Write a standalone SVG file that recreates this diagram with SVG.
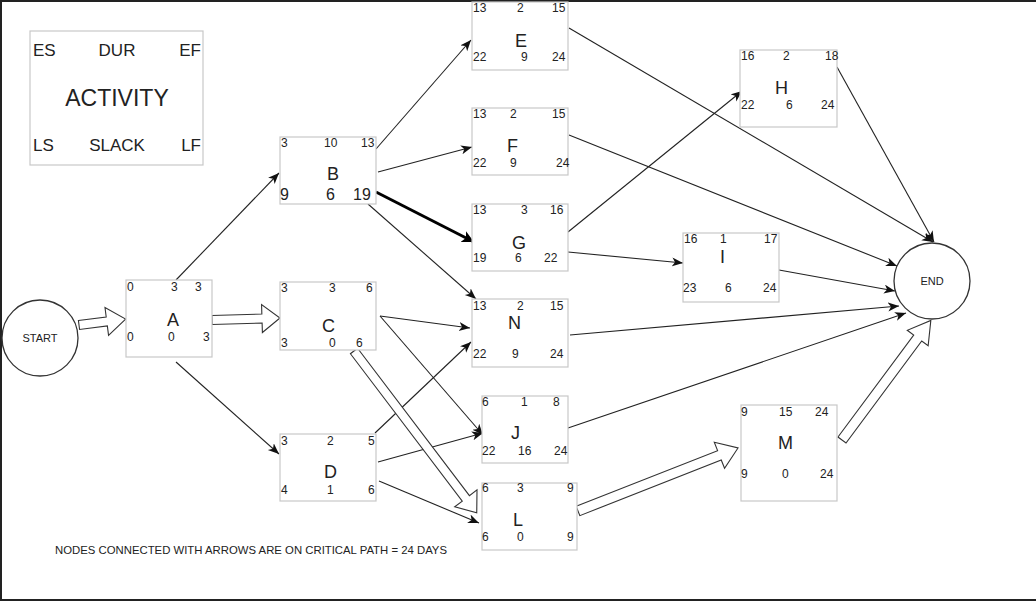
<svg xmlns="http://www.w3.org/2000/svg" width="1036" height="601" viewBox="0 0 1036 601">
<style>
text{font-family:"Liberation Sans",Arial,sans-serif;fill:#222}
.n{font-size:12px}
.b{font-size:16px}
.l{font-size:18px}
.g{font-size:17px}
.box{fill:#fff;stroke:#c8c8c8;stroke-width:1.2}
.circ{fill:#fff;stroke:#333;stroke-width:1.3}
.c{fill:none;stroke:#222;stroke-width:1.1}
.thick{fill:none;stroke:#000;stroke-width:3}
.hol{fill:#fff;stroke:#333;stroke-width:1.1}
</style>
<defs>
<marker id="ah" markerUnits="userSpaceOnUse" markerWidth="12" markerHeight="10" refX="11" refY="4.5" orient="auto">
<path d="M0,0 L11,4.5 L0,9 L3,4.5 Z" fill="#111"/>
</marker>
<marker id="ahb" markerUnits="userSpaceOnUse" markerWidth="14" markerHeight="14" refX="12" refY="6" orient="auto">
<path d="M0,0 L12,6 L0,12 L3,6 Z" fill="#000"/>
</marker>
</defs>
<rect width="1036" height="601" fill="#fff"/>
<path d="M0,1 H1036 M1,0 V601 M0,600 H1036" stroke="#222" stroke-width="2" fill="none"/>

<g id="legend">
<rect class="box" x="30" y="31" width="173" height="134"/>
<text class="g" x="33" y="56">ES</text>
<text class="g" x="117" y="56" text-anchor="middle">DUR</text>
<text class="g" x="201" y="56" text-anchor="end">EF</text>
<text x="117" y="106" font-size="23" text-anchor="middle">ACTIVITY</text>
<text class="g" x="33" y="151">LS</text>
<text class="g" x="117" y="151" text-anchor="middle">SLACK</text>
<text class="g" x="201" y="151" text-anchor="end">LF</text>
</g>

<g id="connectors">
<path class="c" marker-end="url(#ah)" d="M176,280 L279,173"/>
<path class="c" marker-end="url(#ah)" d="M176,362 L279,454"/>
<path class="c" marker-end="url(#ah)" d="M376,149 L471,40"/>
<path class="c" marker-end="url(#ah)" d="M378,172 L472,147"/>
<path class="thick" marker-end="url(#ahb)" d="M376,192 L474,242"/>
<path class="c" marker-end="url(#ah)" d="M368,204 L476,299"/>
<path class="c" marker-end="url(#ah)" d="M380,316 L470,328"/>
<path class="c" marker-end="url(#ah)" d="M380,316 L483,435"/>
<path class="c" marker-end="url(#ah)" d="M375,433 L471,342"/>
<path class="c" marker-end="url(#ah)" d="M378,462 L483,433"/>
<path class="c" marker-end="url(#ah)" d="M379,481 L479,523"/>
<path class="c" marker-end="url(#ah)" d="M569,28 L933,242"/>
<path class="c" marker-end="url(#ah)" d="M569,135 L897,266"/>
<path class="c" marker-end="url(#ah)" d="M568,232 L742,91"/>
<path class="c" marker-end="url(#ah)" d="M568,252 L683,263"/>
<path class="c" marker-end="url(#ah)" d="M779,270 L895,291"/>
<path class="c" marker-end="url(#ah)" d="M570,335 L899,306"/>
<path class="c" marker-end="url(#ah)" d="M568,428 L906,313"/>
<path class="c" marker-end="url(#ah)" d="M837,67 L934,242"/>
<path class="hol" transform="translate(79,325) rotate(-7.3)" d="M0,-4.5 L28,-4.5 L28,-14 L47,0 L28,14 L28,4.5 L0,4.5 Z"/>
<path class="hol" transform="translate(212,320) rotate(-1.7)" d="M0,-4.5 L50,-4.5 L50,-14 L68,0 L50,14 L50,4.5 L0,4.5 Z"/>
<path class="hol" transform="translate(354,351) rotate(52.8)" d="M0,-4.5 L185,-4.5 L185,-14 L203,0 L185,14 L185,4.5 L0,4.5 Z"/>
<path class="hol" transform="translate(578,511) rotate(-21.5)" d="M0,-5 L152,-5 L152,-14 L172,0 L152,14 L152,5 L0,5 Z"/>
<path class="hol" transform="translate(842,440) rotate(-53.4)" d="M0,-5 L127,-5 L127,-13 L149,0 L127,13 L127,5 L0,5 Z"/>
</g>

<g id="START">
<circle class="circ" cx="40" cy="338" r="38"/>
<text x="40" y="342" font-size="11" text-anchor="middle">START</text>
</g>
<g id="END">
<circle class="circ" cx="932" cy="281" r="38"/>
<text x="932" y="285" font-size="11" text-anchor="middle">END</text>
</g>

<g id="A">
<rect class="box" x="126" y="280" width="86" height="77"/>
<text class="n" x="127" y="291">0</text><text class="n" x="171" y="291">3</text><text class="n" x="195" y="291">3</text>
<text class="l" x="167" y="326">A</text>
<text class="n" x="127" y="341">0</text><text class="n" x="168" y="341">0</text><text class="n" x="203" y="341">3</text>
</g>
<g id="B">
<rect class="box" x="280" y="137" width="96" height="67"/>
<text class="n" x="281" y="147">3</text><text class="n" x="324" y="147">10</text><text class="n" x="361" y="147">13</text>
<text class="l" x="327" y="180">B</text>
<text class="b" x="280" y="200">9</text><text class="b" x="326" y="200">6</text><text class="b" x="353" y="200">19</text>
</g>
<g id="C">
<rect class="box" x="280" y="282" width="96" height="68"/>
<text class="n" x="281" y="292">3</text><text class="n" x="329" y="292">3</text><text class="n" x="366" y="292">6</text>
<text class="l" x="322" y="332">C</text>
<text class="n" x="281" y="347">3</text><text class="n" x="329" y="347">0</text><text class="n" x="356" y="347">6</text>
</g>
<g id="D">
<rect class="box" x="280" y="434" width="96" height="67"/>
<text class="n" x="281" y="445">3</text><text class="n" x="327" y="445">2</text><text class="n" x="368" y="445">5</text>
<text class="l" x="324" y="478">D</text>
<text class="n" x="281" y="494">4</text><text class="n" x="327" y="494">1</text><text class="n" x="368" y="494">6</text>
</g>
<g id="E">
<rect class="box" x="472" y="2" width="96" height="68"/>
<text class="n" x="473" y="12">13</text><text class="n" x="517" y="12">2</text><text class="n" x="552" y="12">15</text>
<text class="l" x="515" y="47">E</text>
<text class="n" x="473" y="61">22</text><text class="n" x="521" y="61">9</text><text class="n" x="552" y="61">24</text>
</g>
<g id="F">
<rect class="box" x="472" y="108" width="96" height="67"/>
<text class="n" x="473" y="118">13</text><text class="n" x="510" y="118">2</text><text class="n" x="552" y="118">15</text>
<text class="l" x="507" y="152">F</text>
<text class="n" x="473" y="167">22</text><text class="n" x="510" y="167">9</text><text class="n" x="556" y="167">24</text>
</g>
<g id="G">
<rect class="box" x="472" y="204" width="96" height="67"/>
<text class="n" x="473" y="214">13</text><text class="n" x="521" y="214">3</text><text class="n" x="550" y="214">16</text>
<text class="l" x="512" y="249">G</text>
<text class="n" x="473" y="262">19</text><text class="n" x="515" y="262">6</text><text class="n" x="544" y="262">22</text>
</g>
<g id="N">
<rect class="box" x="472" y="299" width="96" height="68"/>
<text class="n" x="473" y="310">13</text><text class="n" x="517" y="310">2</text><text class="n" x="550" y="310">15</text>
<text class="l" x="508" y="329">N</text>
<text class="n" x="473" y="358">22</text><text class="n" x="512" y="358">9</text><text class="n" x="550" y="358">24</text>
</g>
<g id="J">
<rect class="box" x="482" y="396" width="86" height="67"/>
<text class="n" x="482" y="406">6</text><text class="n" x="521" y="406">1</text><text class="n" x="553" y="406">8</text>
<text class="l" x="511" y="439">J</text>
<text class="n" x="482" y="455">22</text><text class="n" x="518" y="455">16</text><text class="n" x="554" y="455">24</text>
</g>
<g id="L">
<rect class="box" x="482" y="483" width="95" height="67"/>
<text class="n" x="482" y="492">6</text><text class="n" x="517" y="492">3</text><text class="n" x="567" y="492">9</text>
<text class="l" x="513" y="526">L</text>
<text class="n" x="482" y="541">6</text><text class="n" x="517" y="541">0</text><text class="n" x="567" y="541">9</text>
</g>
<g id="H">
<rect class="box" x="740" y="50" width="97" height="77"/>
<text class="n" x="741" y="60">16</text><text class="n" x="783" y="60">2</text><text class="n" x="825" y="60">18</text>
<text class="l" x="775" y="94">H</text>
<text class="n" x="741" y="109">22</text><text class="n" x="786" y="109">6</text><text class="n" x="821" y="109">24</text>
</g>
<g id="I">
<rect class="box" x="683" y="233" width="96" height="69"/>
<text class="n" x="684" y="243">16</text><text class="n" x="720" y="243">1</text><text class="n" x="764" y="243">17</text>
<text class="l" x="720" y="263">I</text>
<text class="n" x="683" y="292">23</text><text class="n" x="725" y="292">6</text><text class="n" x="763" y="292">24</text>
</g>
<g id="M">
<rect class="box" x="741" y="405" width="96" height="96"/>
<text class="n" x="741" y="416">9</text><text class="n" x="779" y="416">15</text><text class="n" x="815" y="416">24</text>
<text class="l" x="778" y="449">M</text>
<text class="n" x="741" y="478">9</text><text class="n" x="782" y="478">0</text><text class="n" x="820" y="478">24</text>
</g>

<text x="55" y="554" font-size="11.3" textLength="392" lengthAdjust="spacingAndGlyphs">NODES CONNECTED WITH ARROWS ARE ON CRITICAL PATH = 24 DAYS</text>
</svg>
